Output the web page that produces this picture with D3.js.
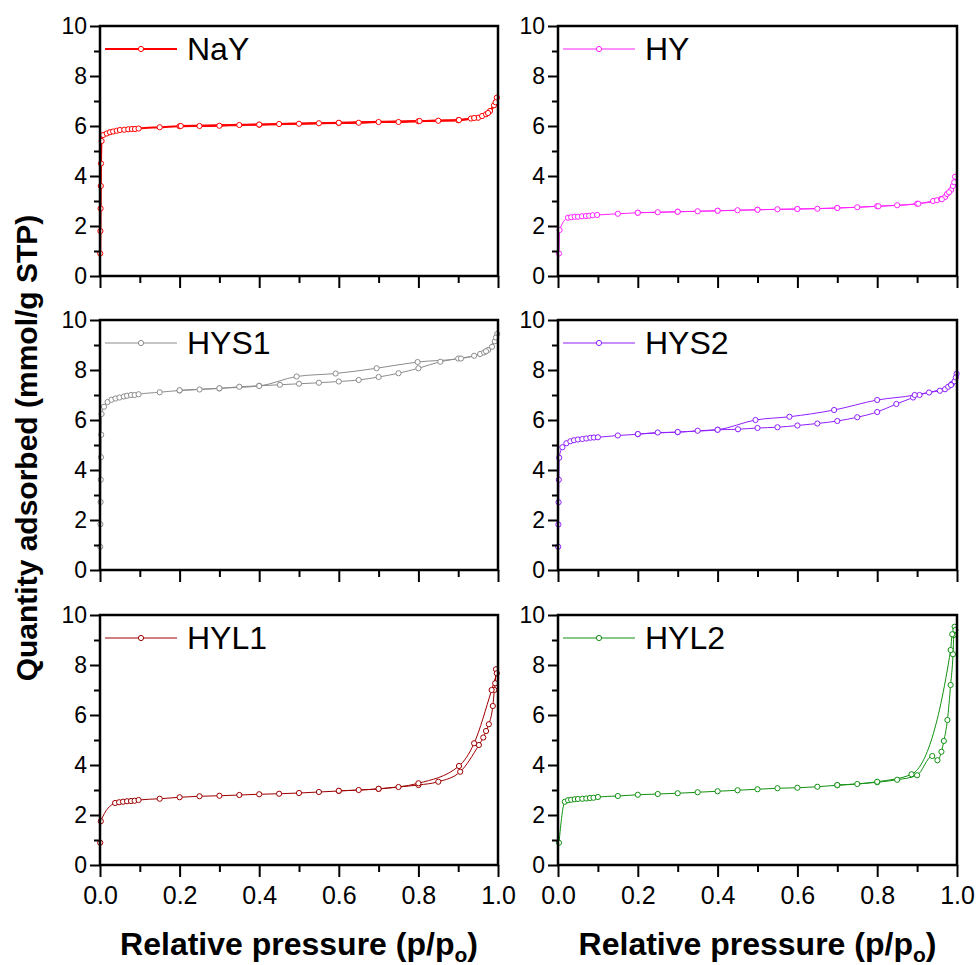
<!DOCTYPE html>
<html lang="en">
<head>
<meta charset="UTF-8">
<title>N2 isotherms</title>
<script src="https://d3js.org/d3.v7.min.js"></script>
<style>
  body { margin: 0; background: #fff; }
  svg text { font-family: Arial, "Liberation Sans", sans-serif; fill: #000; }
  .tick text { font-size: 23px; }
  .xlab .tick text { font-size: 25px; }
  .title { font-weight: bold; }
</style>
</head>
<body>
<svg id="chart" width="976" height="965"></svg>
<script>
// sample names and colours
const samples = ["NaY", "HY", "HYS1", "HYS2", "HYL1", "HYL2"];
const colors = ["#ff0000", "#ff22ff", "#8c8c8c", "#8f1fff", "#9e0000", "#119111"];

// [p/po, mmol/g] adsorption branches
const nayAds = [[0.0005,0.9],[0.001,1.8],[0.0015,2.7],[0.002,3.6],[0.0025,4.5],[0.004,5.4],[0.008,5.64],[0.017,5.7],[0.025,5.75],[0.033,5.78],[0.042,5.81],[0.05,5.84],[0.061,5.85],[0.071,5.87],[0.08,5.88],[0.088,5.88],[0.097,5.9],[0.15,5.95],[0.2,5.99],[0.25,6.0],[0.3,6.01],[0.35,6.04],[0.4,6.05],[0.45,6.08],[0.5,6.09],[0.55,6.11],[0.6,6.12],[0.65,6.13],[0.7,6.16],[0.75,6.16],[0.8,6.19],[0.85,6.21],[0.9,6.23],[0.932,6.3],[0.95,6.33],[0.96,6.4],[0.97,6.47],[0.98,6.6],[0.99,6.83],[0.997,7.13]];
const hyAds = [[0.0025,0.9],[0.004,1.84],[0.025,2.33],[0.033,2.35],[0.042,2.37],[0.05,2.37],[0.06,2.39],[0.07,2.4],[0.078,2.41],[0.087,2.43],[0.098,2.44],[0.15,2.49],[0.2,2.53],[0.25,2.55],[0.3,2.57],[0.35,2.59],[0.4,2.61],[0.45,2.63],[0.5,2.65],[0.55,2.67],[0.6,2.68],[0.65,2.69],[0.7,2.72],[0.75,2.75],[0.8,2.79],[0.85,2.83],[0.9,2.89],[0.94,3.0],[0.95,3.03],[0.96,3.08],[0.97,3.16],[0.975,3.28],[0.985,3.44],[0.99,3.6],[0.995,3.97]];
const hys1Ads = [[0.0005,0.93],[0.001,1.83],[0.0015,2.72],[0.002,3.61],[0.0025,4.51],[0.003,5.41],[0.004,6.24],[0.01,6.53],[0.019,6.72],[0.029,6.81],[0.039,6.86],[0.049,6.9],[0.06,6.94],[0.068,6.97],[0.078,7.0],[0.087,7.0],[0.097,7.03],[0.15,7.11],[0.2,7.18],[0.25,7.22],[0.3,7.26],[0.35,7.33],[0.4,7.37],[0.452,7.41],[0.5,7.45],[0.55,7.49],[0.6,7.54],[0.65,7.6],[0.7,7.72],[0.75,7.87],[0.8,8.07],[0.855,8.33],[0.9,8.46],[0.94,8.57],[0.955,8.64],[0.965,8.7],[0.975,8.8],[0.985,8.93],[0.992,9.15],[0.998,9.44]];
const hys2Ads = [[0.0005,0.93],[0.001,1.82],[0.0015,2.71],[0.002,3.61],[0.003,4.49],[0.011,4.91],[0.021,5.07],[0.031,5.15],[0.04,5.19],[0.05,5.22],[0.061,5.24],[0.071,5.26],[0.081,5.29],[0.09,5.3],[0.1,5.31],[0.15,5.38],[0.2,5.43],[0.25,5.5],[0.3,5.51],[0.35,5.57],[0.4,5.61],[0.451,5.63],[0.5,5.68],[0.55,5.71],[0.6,5.78],[0.65,5.86],[0.7,5.96],[0.75,6.11],[0.8,6.32],[0.848,6.64],[0.89,6.9],[0.906,7.0],[0.93,7.1],[0.957,7.17],[0.97,7.23],[0.978,7.33],[0.987,7.44],[0.994,7.55],[0.999,7.85]];
const hyl1Ads = [[0.0005,0.89],[0.002,1.75],[0.038,2.48],[0.048,2.51],[0.058,2.53],[0.068,2.55],[0.078,2.56],[0.087,2.57],[0.097,2.6],[0.15,2.65],[0.2,2.71],[0.25,2.75],[0.3,2.77],[0.35,2.8],[0.4,2.83],[0.45,2.85],[0.5,2.88],[0.55,2.92],[0.6,2.96],[0.65,3.0],[0.7,3.04],[0.75,3.12],[0.8,3.2],[0.85,3.33],[0.905,3.73],[0.952,4.8],[0.963,5.1],[0.97,5.36],[0.977,5.63],[0.987,6.36],[0.991,7.0],[0.993,7.27],[0.995,7.83]];
const hyl2Ads = [[0.0025,0.89],[0.017,2.53],[0.025,2.59],[0.033,2.61],[0.042,2.63],[0.05,2.64],[0.061,2.65],[0.071,2.66],[0.08,2.68],[0.089,2.69],[0.1,2.72],[0.15,2.76],[0.2,2.81],[0.25,2.84],[0.3,2.87],[0.35,2.91],[0.4,2.95],[0.45,2.99],[0.5,3.03],[0.55,3.07],[0.6,3.09],[0.65,3.13],[0.7,3.19],[0.75,3.24],[0.8,3.31],[0.85,3.41],[0.9,3.59],[0.938,4.36],[0.951,4.19],[0.961,4.53],[0.967,4.96],[0.976,5.8],[0.984,7.2],[0.99,8.43],[0.992,9.2],[0.994,9.53]];

// desorption branches (high -> low pressure)
const nayDes = [[0.994,6.95],[0.975,6.52],[0.94,6.32],[0.902,6.24],[0.803,6.2],[0.6,6.13],[0.4,6.06],[0.203,6.0]];
const hyDes = [[0.993,3.75],[0.98,3.35],[0.962,3.07],[0.903,2.89],[0.803,2.79],[0.7,2.72],[0.6,2.68],[0.5,2.65],[0.4,2.61],[0.3,2.57],[0.2,2.53]];
const hys1Des = [[0.995,9.3],[0.97,8.75],[0.907,8.46],[0.798,8.32],[0.695,8.07],[0.592,7.86],[0.494,7.74],[0.4,7.36],[0.3,7.27],[0.2,7.19]];
const hys2Des = [[0.997,7.7],[0.985,7.4],[0.894,7.0],[0.8,6.8],[0.692,6.4],[0.58,6.13],[0.495,6.0],[0.4,5.61],[0.3,5.52],[0.2,5.44]];
const hyl1Des = [[0.997,7.67],[0.984,7.0],[0.94,4.87],[0.902,3.96],[0.8,3.27],[0.7,3.05],[0.6,2.97]];
const hyl2Des = [[0.996,9.4],[0.988,9.23],[0.984,8.6],[0.886,3.63],[0.8,3.33],[0.7,3.2]];

const adsorption = [nayAds, hyAds, hys1Ads, hys2Ads, hyl1Ads, hyl2Ads];
const desorption = [nayDes, hyDes, hys1Des, hys2Des, hyl1Des, hyl2Des];

const yMajor = [0, 2, 4, 6, 8, 10];
const yMinor = [1, 3, 5, 7, 9];
const xMajor = [0, 0.2, 0.4, 0.6, 0.8, 1.0];
const xMinor = [0.1, 0.3, 0.5, 0.7, 0.9];

const svg = d3.select("#chart");

// panel boxes
const colX = [[100, 498], [558, 957]];
const rowY = [[26, 276], [320, 570], [615, 865]];

samples.forEach((name, i) => {
  const col = i % 2, row = Math.floor(i / 2);
  const x = d3.scaleLinear().domain([0, 1]).range(colX[col]);
  const y = d3.scaleLinear().domain([0, 10]).range([rowY[row][1], rowY[row][0]]);
  const g = svg.append("g");
  const c = colors[i];
  const lw = i === 0 ? 2 : 1;

  const line = d3.line()
    .x(d => x(d[0]))
    .y(d => y(d[1]))
    .curve(d3.curveMonotoneX);

  g.append("path").datum(desorption[i])
    .attr("d", line).attr("fill", "none").attr("stroke", c).attr("stroke-width", lw);
  g.append("path").datum(adsorption[i])
    .attr("d", line).attr("fill", "none").attr("stroke", c).attr("stroke-width", lw);

  g.selectAll("circle.pt")
    .data(adsorption[i].concat(desorption[i]))
    .join("circle")
    .attr("class", "pt")
    .attr("cx", d => x(d[0]))
    .attr("cy", d => y(d[1]))
    .attr("r", 2.6)
    .attr("fill", "#fff")
    .attr("stroke", c)
    .attr("stroke-width", 1);

  // axes
  const ax = g.append("g").attr("transform", `translate(${x(0)},0)`)
    .call(d3.axisLeft(y).tickValues(yMajor).tickSize(10).tickPadding(3).tickFormat(d3.format("d")));
  const axm = g.append("g").attr("transform", `translate(${x(0)},0)`)
    .call(d3.axisLeft(y).tickValues(yMinor).tickSize(6).tickFormat(""));
  const bx = g.append("g").attr("class", row === 2 ? "xlab" : "")
    .attr("transform", `translate(0,${y(0)})`)
    .call(d3.axisBottom(x).tickValues(xMajor).tickSize(12).tickPadding(9)
      .tickFormat(row === 2 ? d3.format(".1f") : ""));
  const bxm = g.append("g").attr("transform", `translate(0,${y(0)})`)
    .call(d3.axisBottom(x).tickValues(xMinor).tickSize(7).tickFormat(""));
  [ax, axm, bx, bxm].forEach(a => {
    a.select(".domain").remove();
    a.selectAll("line").attr("stroke", "#000").attr("stroke-width", 2);
  });

  g.append("rect")
    .attr("x", x(0)).attr("y", y(10))
    .attr("width", x(1) - x(0)).attr("height", y(0) - y(10))
    .attr("fill", "none").attr("stroke", "#000").attr("stroke-width", 2.5);

  // legend
  const lx = x(0) + 5, ly = y(10) + 23;
  g.append("line").attr("x1", lx).attr("x2", lx + 72).attr("y1", ly).attr("y2", ly)
    .attr("stroke", c).attr("stroke-width", lw);
  g.append("circle").attr("cx", lx + 36).attr("cy", ly).attr("r", 2.6)
    .attr("fill", "#fff").attr("stroke", c).attr("stroke-width", 1);
  g.append("text").attr("x", lx + 82).attr("y", ly + 11)
    .style("font-size", "32px").text(name);

  if (row === 2) {
    const t = g.append("text").attr("class", "title")
      .attr("x", (x(0) + x(1)) / 2).attr("y", 955)
      .attr("text-anchor", "middle").style("font-size", "32px");
    t.append("tspan").text("Relative pressure (p/p");
    t.append("tspan").attr("dy", 7).style("font-size", "21px").text("o");
    t.append("tspan").attr("dy", -7).text(")");
  }
});

svg.append("text").attr("class", "title")
  .attr("transform", "translate(37,448) rotate(-90)")
  .attr("text-anchor", "middle")
  .style("font-size", "30px")
  .text("Quantity adsorbed (mmol/g STP)");
</script>
</body>
</html>
